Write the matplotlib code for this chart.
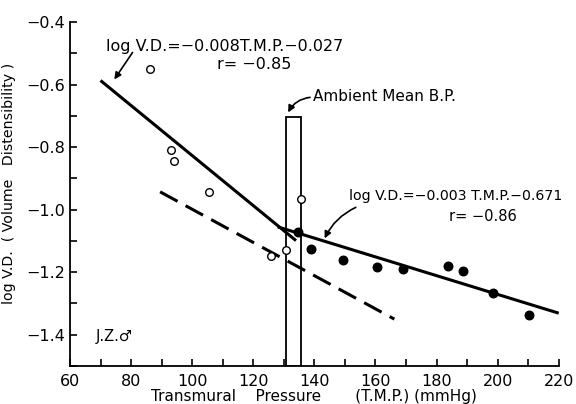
import numpy as np
import matplotlib.pyplot as plt
from matplotlib.patches import Rectangle
from matplotlib.ticker import MultipleLocator

# Open circles (below ambient pressure) and filled circles (above).
openX = [86.3, 93.2, 94.0, 105.5, 125.8, 130.6, 135.6]
openY = [-0.55, -0.81, -0.845, -0.945, -1.148, -1.128, -0.966]
filledX = [134.8, 138.8, 149.5, 160.6, 169.1, 183.9, 188.8, 198.6, 210.3]
filledY = [-1.07, -1.125, -1.16, -1.183, -1.19, -1.18, -1.196, -1.266, -1.336]

# Regression lines.
lowSlope, lowIcept = -0.008, -0.027
lowRange = [70, 134]
highSlope, highIcept = -0.003, -0.671
highRange = [128, 220]
dashX = [89.5, 166.2]
dashY = [-0.943, -1.35]

# Ambient mean B.P. box.
boxX = [130.6, 135.7]
boxTop = -0.705

plt.rcParams['font.family'] = ['DejaVu Sans']
fig = plt.figure(figsize=(5.76, 4.04), dpi=100)
ax = fig.add_axes([0.1215, 0.094, 0.8485, 0.8515])

x1 = np.array(lowRange)
ax.plot(x1, lowSlope*x1 + lowIcept, color='black', lw=2.2, solid_capstyle='butt')
x2 = np.array(highRange)
ax.plot(x2, highSlope*x2 + highIcept, color='black', lw=2.2, solid_capstyle='butt')
ax.plot(dashX, dashY, color='black', lw=2.2, dashes=(6.5, 3))

ax.add_patch(Rectangle((boxX[0], -1.5), boxX[1]-boxX[0], boxTop + 1.5,
                       fill=False, edgecolor='black', lw=1.3, zorder=3))

ax.scatter(openX, openY, s=30, facecolors='white', edgecolors='black', lw=1.0, zorder=4)
ax.scatter(filledX, filledY, s=38, color='black', zorder=4)

ax.set_xlim(60, 220)
ax.set_ylim(-1.5, -0.4)
ax.spines['top'].set_visible(False)
ax.spines['right'].set_visible(False)
ax.spines['left'].set_linewidth(1.3)
ax.spines['bottom'].set_linewidth(1.3)
ax.xaxis.set_major_locator(MultipleLocator(20))
ax.xaxis.set_minor_locator(MultipleLocator(10))
ax.yaxis.set_major_locator(MultipleLocator(0.2))
ax.yaxis.set_minor_locator(MultipleLocator(0.1))
ax.yaxis.set_major_formatter(lambda v, p: ('%.1f' % v).replace('-', '\u2212'))
ax.tick_params(which='both', direction='in', length=5, width=1.2, labelsize=11.5)
ax.tick_params(axis='x', pad=6)

ax.set_xlabel('Transmural    Pressure       (T.M.P.) (mmHg)', fontsize=11, labelpad=0)
ax.set_ylabel('log V.D.  ( Volume   Distensibility )', fontsize=10.2)
ax.yaxis.set_label_coords(-0.11, 0.53)

ax.text(71.8, -0.478, 'log V.D.=\u22120.008T.M.P.\u22120.027', fontsize=11.5, va='center')
ax.text(108, -0.537, 'r= \u22120.85', fontsize=11.5, va='center')
ax.annotate('', xy=(74, -0.591), xytext=(81, -0.49),
            arrowprops=dict(arrowstyle='-|>', color='black', lw=1.2))

ax.text(139.7, -0.639, 'Ambient Mean B.P.', fontsize=11, va='center')
ax.annotate('', xy=(131, -0.697), xytext=(139.5, -0.64),
            arrowprops=dict(arrowstyle='-|>', color='black', lw=1.2,
                            connectionstyle='arc3,rad=0.3'))

ax.text(151.2, -0.957, 'log V.D.=\u22120.003 T.M.P.\u22120.671', fontsize=10.2, va='center')
ax.text(184, -1.021, 'r= \u22120.86', fontsize=10.5, va='center')
ax.annotate('', xy=(143, -1.1), xytext=(154.4, -0.989),
            arrowprops=dict(arrowstyle='-|>', color='black', lw=1.2,
                            connectionstyle='arc3,rad=0.2'))

ax.text(68.5, -1.405, 'J.Z.\u2642', fontsize=10.5, va='center')

fig.savefig('out.png', dpi=100)
